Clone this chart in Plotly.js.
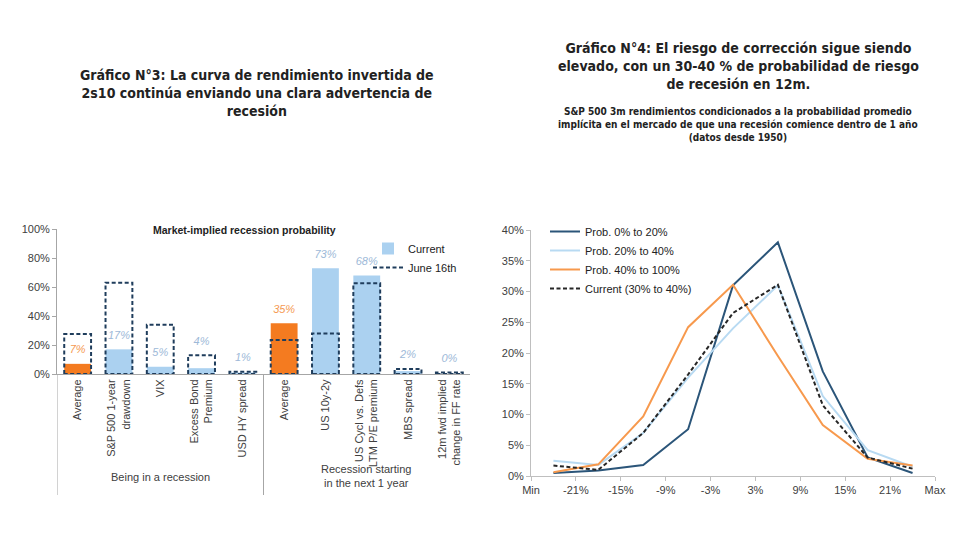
<!DOCTYPE html>
<html>
<head>
<meta charset="utf-8">
<script src="https://cdn.plot.ly/plotly-3.0.1.min.js"></script>
<style>
html,body{margin:0;padding:0;background:#fff;}
#chart{width:960px;height:540px;}
</style>
</head>
<body>
<div id="chart"></div>
<script>
// ---------- Left chart data (Gráfico N°3) ----------
const leftCategories = [
  "Average", "S&P 500 1-year<br>drawdown", "VIX", "Excess Bond<br>Premium", "USD HY spread",
  "Average", "US 10y-2y", "US Cycl vs. Defs<br>LTM P/E premium", "MBS spread", "12m fwd implied<br>change in FF rate"
];
const leftGroups = ["Being in a recession", "Recession starting<br>in the next 1 year"];
const currentValues = [7, 17, 5, 4, 1, 35, 73, 68, 2, 0];
const june16Values = [27.5, 63, 34, 13, 1.5, 23.5, 28, 62.5, 3.5, 1];
const isAverage = [true, false, false, false, false, true, false, false, false, false];
const leftYTicks = [0, 20, 40, 60, 80, 100];

// ---------- Right chart data (Gráfico N°4) ----------
const bucketMid = [-24, -18, -12, -6, 0, 6, 12, 18, 24];
const bucketEdges = [-27, -21, -15, -9, -3, 3, 9, 15, 21, 27];
const bucketLabels = ["Min", "-21%", "-15%", "-9%", "-3%", "3%", "9%", "15%", "21%", "Max"];
const prob0to20 = [0.5, 0.9, 1.8, 7.6, 31, 38, 17, 3, 0.5];
const prob20to40 = [2.5, 1.8, 7, 16, 24, 31, 13, 4.2, 1.5];
const prob40to100 = [0.6, 1.9, 9.7, 24.2, 31.1, 19.5, 8.3, 2.8, 1.7];
const currentProb = [1.7, 1.0, 7, 16.5, 26.5, 31.1, 11.5, 3, 1.2];
const rightYTicks = [0, 5, 10, 15, 20, 25, 30, 35, 40];

// ---------- Styles ----------
const ORANGE = "#F47B20";
const LBLUE = "#ABD1F0";
const NAVY = "#1F3D5C";
const chartFont = "Liberation Sans, Arial, sans-serif";
const titleFont = "DejaVu Sans Condensed, DejaVu Sans, sans-serif";
const W = 960, H = 540;
const px = v => v / W;
const py = v => 1 - v / H;
const barHalf = 0.325;

const idx = leftCategories.map((_, i) => i);

// dashed outlines for June 16th built from the data
const juneX = [], juneY = [];
june16Values.forEach((v, i) => {
  juneX.push(i - barHalf, i - barHalf, i + barHalf, i + barHalf, i - barHalf, null);
  juneY.push(0, v, v, 0, 0, null);
});
// label sits above the current bar, or above the June outline when the outline is close above it
const labelBase = currentValues.map((v, i) => {
  const j = june16Values[i];
  return (j > v && j - v < 12) ? j : v;
});

const traces = [
  {
    type: "bar", name: "Current", x: idx, y: currentValues.map((v, i) => isAverage[i] ? null : v),
    xaxis: "x", yaxis: "y", width: barHalf * 2,
    marker: {color: LBLUE, line: {width: 0}}, hoverinfo: "skip", legend: "legend"
  },
  {
    type: "bar", name: "Average", x: idx, y: currentValues.map((v, i) => isAverage[i] ? v : null),
    xaxis: "x", yaxis: "y", width: barHalf * 2, showlegend: false,
    marker: {color: ORANGE, line: {width: 0}}, hoverinfo: "skip", legend: "legend"
  },
  {
    type: "scatter", mode: "lines", name: "June 16th", x: juneX, y: juneY,
    xaxis: "x", yaxis: "y", line: {color: NAVY, width: 2, dash: "4px,2.5px"},
    hoverinfo: "skip", legend: "legend", connectgaps: false
  },
  {
    type: "scatter", mode: "markers+text", name: "labels", x: idx, y: labelBase, showlegend: false,
    xaxis: "x", yaxis: "y", text: currentValues.map(v => v + "%"), textposition: "top center",
    marker: {size: 11, color: "rgba(0,0,0,0)"},
    cliponaxis: false, hoverinfo: "skip",
    textfont: {family: chartFont, size: 11, style: "italic", color: isAverage.map(a => a ? "#F59A52" : "#9DB9D8")}
  },
  {
    type: "scatter", mode: "lines", name: "Prob. 0% to 20%", x: bucketMid, y: prob0to20,
    xaxis: "x2", yaxis: "y2", line: {color: "#2B5579", width: 2}, legend: "legend2"
  },
  {
    type: "scatter", mode: "lines", name: "Prob. 20% to 40%", x: bucketMid, y: prob20to40,
    xaxis: "x2", yaxis: "y2", line: {color: "#B8DAF2", width: 2}, legend: "legend2"
  },
  {
    type: "scatter", mode: "lines", name: "Prob. 40% to 100%", x: bucketMid, y: prob40to100,
    xaxis: "x2", yaxis: "y2", line: {color: "#F7994D", width: 2}, legend: "legend2"
  },
  {
    type: "scatter", mode: "lines", name: "Current (30% to 40%)", x: bucketMid, y: currentProb,
    xaxis: "x2", yaxis: "y2", line: {color: "#262626", width: 2, dash: "4px,2.5px"}, legend: "legend2"
  }
];

const axisFont = {family: chartFont, size: 11, color: "#404040"};

const layout = {
  width: W, height: H,
  margin: {l: 0, r: 0, t: 0, b: 0},
  paper_bgcolor: "#fff", plot_bgcolor: "rgba(0,0,0,0)",
  barmode: "overlay",
  showlegend: true,
  font: {family: chartFont, color: "#404040"},
  xaxis: {
    domain: [px(57), px(470)], range: [-0.5, 9.5], anchor: "y",
    tickvals: idx, ticktext: leftCategories, tickangle: -90,
    tickfont: axisFont, showline: true, linecolor: "#A6A6A6", linewidth: 1,
    showgrid: false, zeroline: false, ticks: "", fixedrange: true
  },
  yaxis: {
    domain: [py(374), py(229)], range: [0, 100], anchor: "x",
    tickvals: leftYTicks, ticktext: leftYTicks.map(v => v + "%"),
    tickfont: axisFont, showline: true, linecolor: "#A6A6A6", linewidth: 1,
    ticks: "outside", ticklen: 4, tickcolor: "#A6A6A6",
    showgrid: false, zeroline: false
  },
  xaxis2: {
    domain: [px(531), px(935)], range: [-27, 27], anchor: "y2",
    tickvals: bucketEdges, ticktext: bucketLabels,
    tickfont: axisFont, showline: true, linecolor: "#BFBFBF", linewidth: 1,
    ticks: "outside", ticklen: 4, tickcolor: "#BFBFBF",
    showgrid: false, zeroline: false
  },
  yaxis2: {
    domain: [py(476), py(230)], range: [0, 40], anchor: "x2",
    tickvals: rightYTicks, ticktext: rightYTicks.map(v => v + "%"),
    tickfont: axisFont, showline: true, linecolor: "#BFBFBF", linewidth: 1,
    ticks: "outside", ticklen: 4, tickcolor: "#BFBFBF",
    showgrid: false, zeroline: false
  },
  legend: {
    x: px(368), y: py(234), xanchor: "left", yanchor: "top",
    bgcolor: "rgba(255,255,255,0)", font: {family: chartFont, size: 11, color: "#222"},
    itemwidth: 30, tracegroupgap: 0
  },
  legend2: {
    x: px(545), y: py(217), xanchor: "left", yanchor: "top",
    bgcolor: "rgba(255,255,255,0)", font: {family: chartFont, size: 11, color: "#222"},
    itemwidth: 30, tracegroupgap: 0
  },
  shapes: [
    {type: "line", xref: "x", yref: "paper", x0: -0.5, x1: -0.5, y0: py(374), y1: py(495), line: {color: "#A6A6A6", width: 1}},
    {type: "line", xref: "x", yref: "paper", x0: 4.5, x1: 4.5, y0: py(374), y1: py(495), line: {color: "#A6A6A6", width: 1}}
  ],
  annotations: [
    {xref: "paper", yref: "paper", x: px(257), y: py(93), xanchor: "center", yanchor: "middle", showarrow: false,
     text: "<b>Gráfico N°3: La curva de rendimiento invertida de<br>2s10 continúa enviando una clara advertencia de<br>recesión</b>",
     font: {family: titleFont, size: 14, color: "#222"}},
    {xref: "paper", yref: "paper", x: px(738), y: py(66), xanchor: "center", yanchor: "middle", showarrow: false,
     text: "<b>Gráfico N°4: El riesgo de corrección sigue siendo<br>elevado, con un 30-40 % de probabilidad de riesgo<br>de recesión en 12m.</b>",
     font: {family: titleFont, size: 14, color: "#222"}},
    {xref: "paper", yref: "paper", x: px(738), y: py(124), xanchor: "center", yanchor: "middle", showarrow: false,
     text: "<b>S&P 500 3m rendimientos condicionados a la probabilidad promedio<br>implícita en el mercado de que una recesión comience dentro de 1 año<br>(datos desde 1950)</b>",
     font: {family: titleFont, size: 10, color: "#222"}},
    {xref: "paper", yref: "paper", x: px(245), y: py(230), xanchor: "center", yanchor: "middle", showarrow: false,
     text: "<b>Market-implied recession probability</b>",
     font: {family: chartFont, size: 10.5, color: "#222"}},
    {xref: "x", yref: "paper", x: 2, y: py(477), xanchor: "center", yanchor: "middle", showarrow: false,
     text: leftGroups[0], font: {family: chartFont, size: 11, color: "#404040"}},
    {xref: "x", yref: "paper", x: 7, y: py(476), xanchor: "center", yanchor: "middle", showarrow: false,
     text: leftGroups[1], font: {family: chartFont, size: 11, color: "#404040"}}
  ]
};

Plotly.newPlot("chart", traces, layout, {displayModeBar: false, staticPlot: true});
</script>
</body>
</html>
